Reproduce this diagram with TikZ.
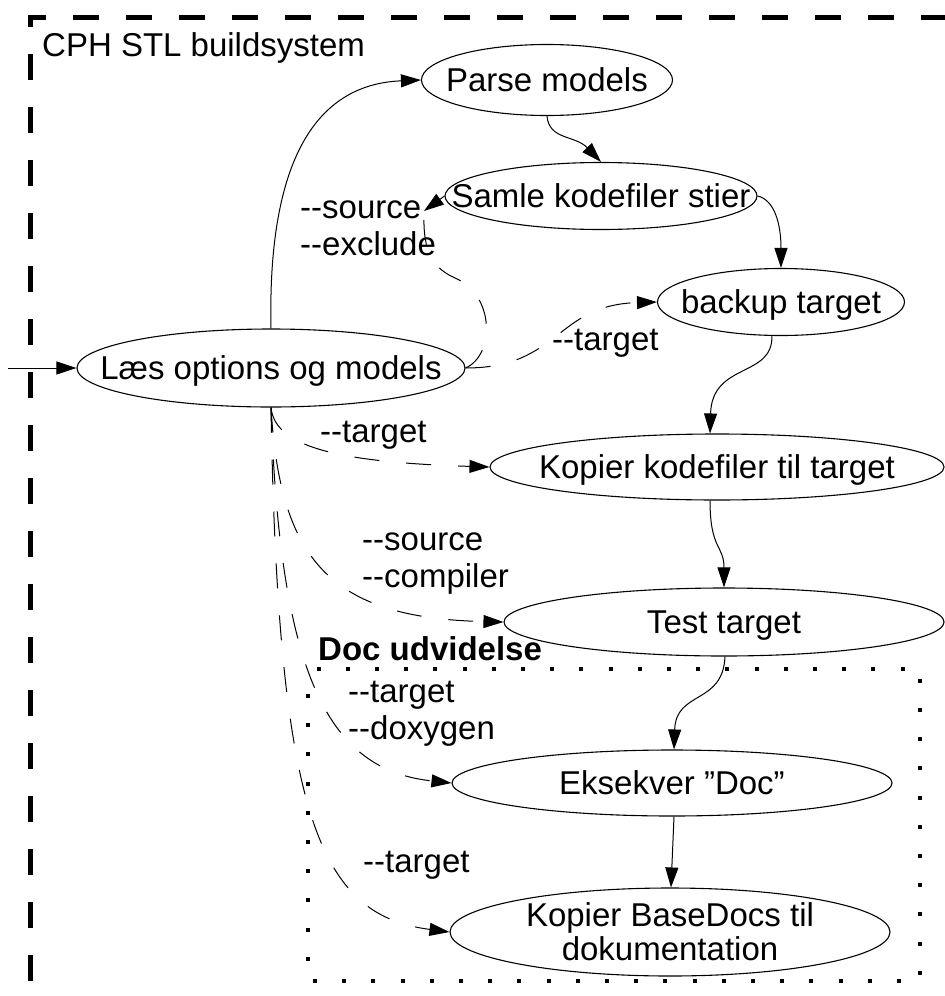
\documentclass[tikz,border=0pt]{standalone}
\usepackage{fontspec}
\setmainfont{Liberation Sans}
\usetikzlibrary{shapes.geometric,arrows.meta}
\begin{document}
\begin{tikzpicture}[x=1pt,y=-1pt,
  font=\fontsize{33}{37}\selectfont,
  ellshape/.style={draw, ellipse, line width=1.1pt, inner xsep=-400pt, inner ysep=-80pt},
  ell/.style={ellshape, text height=22pt, text depth=0pt},
  edge/.style={line width=1pt, -{Triangle[length=20pt,width=13pt]}},
  dedge/.style={edge, dash pattern=on 25pt off 27pt},
  dline/.style={line width=1pt, dash pattern=on 25pt off 27pt},
  lbl/.style={inner sep=0pt, anchor=base west},
  mlbl/.style={inner sep=0pt, anchor=north west, align=left},
  outerbox/.style={line width=5pt, dash pattern=on 26pt off 27pt, dash phase=24pt},
  docbox/.style={line width=4pt, dash pattern=on 4pt off 25.2pt, dash phase=4.2pt}
]
\useasboundingbox (0,0) rectangle (945,996);
\fill[white] (0,0) rectangle (945,996);

% frames
\draw[outerbox] (30,1010) -- (30,17) -- (960,17);
\draw[outerbox] (30,998) -- (960,998);
\draw[docbox] (308,669) rectangle (920,981);

% nodes
\node[ell, minimum width=251pt, minimum height=71pt] (parse) at (547,80) {Parse models};
\node[ell, minimum width=312pt, minimum height=67pt] (samle) at (601,196) {Samle kodefiler stier};
\node[ell, minimum width=247pt, minimum height=67pt] (backup) at (781,302) {backup target};
\node[ell, minimum width=388pt, minimum height=78pt] (laes) at (271,368) {Læs options og models};
\node[ell, minimum width=454pt, minimum height=66pt] (kopier) at (717,467) {Kopier kodefiler til target};
\node[ell, minimum width=440pt, minimum height=68pt] (test) at (724,622) {Test target};
\node[ell, minimum width=440pt, minimum height=66pt] (eksek) at (672,783) {Eksekver "Doc”};
\node[ellshape, align=center, font=\fontsize{33}{34}\selectfont, minimum width=440pt, minimum height=88pt] (base) at (670,932) {Kopier BaseDocs til\\dokumentation};

% labels
\node[lbl] (lcph) at (42,56) {CPH STL buildsystem};
\node[mlbl] (lsrc) at (300,192.1) {\strut-{}-source\\\strut-{}-exclude};
\node[lbl] (ltgt1) at (552,350) {-{}-target};
\node[lbl] (ltgt2) at (320,442) {-{}-target};
\node[mlbl] (lcomp) at (362,524.1) {\strut-{}-source\\\strut-{}-compiler};
\node[lbl, font=\fontsize{33}{37}\selectfont\bfseries] (ldoc) at (318,660) {Doc udvidelse};
\node[mlbl] (ldoxy) at (348,676.1) {\strut-{}-target\\\strut-{}-doxygen};
\node[lbl] (ltgt3) at (363,872) {-{}-target};

% solid edges
\coordinate (start) at (8,368);
\draw[edge] (start) -- (laes.west);
\draw[edge] (laes.north) .. controls (268,190) and (300,85) .. (parse.west);
\draw[edge] (parse.south) .. controls (549,140) and (575,135) .. (samle.north);
\draw[edge] (samle.east) .. controls (775,200) and (781,225) .. (backup.north);
\draw[edge] (backup.255) .. controls (773,378) and (712,362) .. ([xshift=-7pt]kopier.north);
\draw[edge] ([xshift=-7pt]kopier.south) .. controls (710,550) and (724,545) .. (test.north);
\draw[edge] ([xshift=1pt]test.south) .. controls (723,705) and (676,690) .. ([xshift=2pt]eksek.north);
\draw[edge] ([xshift=2pt]eksek.south) -- ([xshift=1pt]base.north);

% dashed edges
\coordinate (srcend) at (424,211);
\draw[dline] (laes.east) .. controls (495,355) and (495,295) .. (455,278) .. controls (428,266) and (423,245) .. (srcend);
\draw[edge] (samle.west) -- (srcend);
\draw[dedge] (laes.east) .. controls (560,368) and (555,305) .. (backup.west);
\draw[dedge] (laes.south) .. controls (275,445) and (330,462) .. (kopier.west);
\draw[dedge] (laes.south) .. controls (280,560) and (330,618) .. (test.west);
\draw[dedge] (laes.south) .. controls (280,680) and (330,770) .. (eksek.west);
\draw[dedge] (laes.south) .. controls (278,820) and (320,915) .. (base.west);
\end{tikzpicture}
\end{document}
